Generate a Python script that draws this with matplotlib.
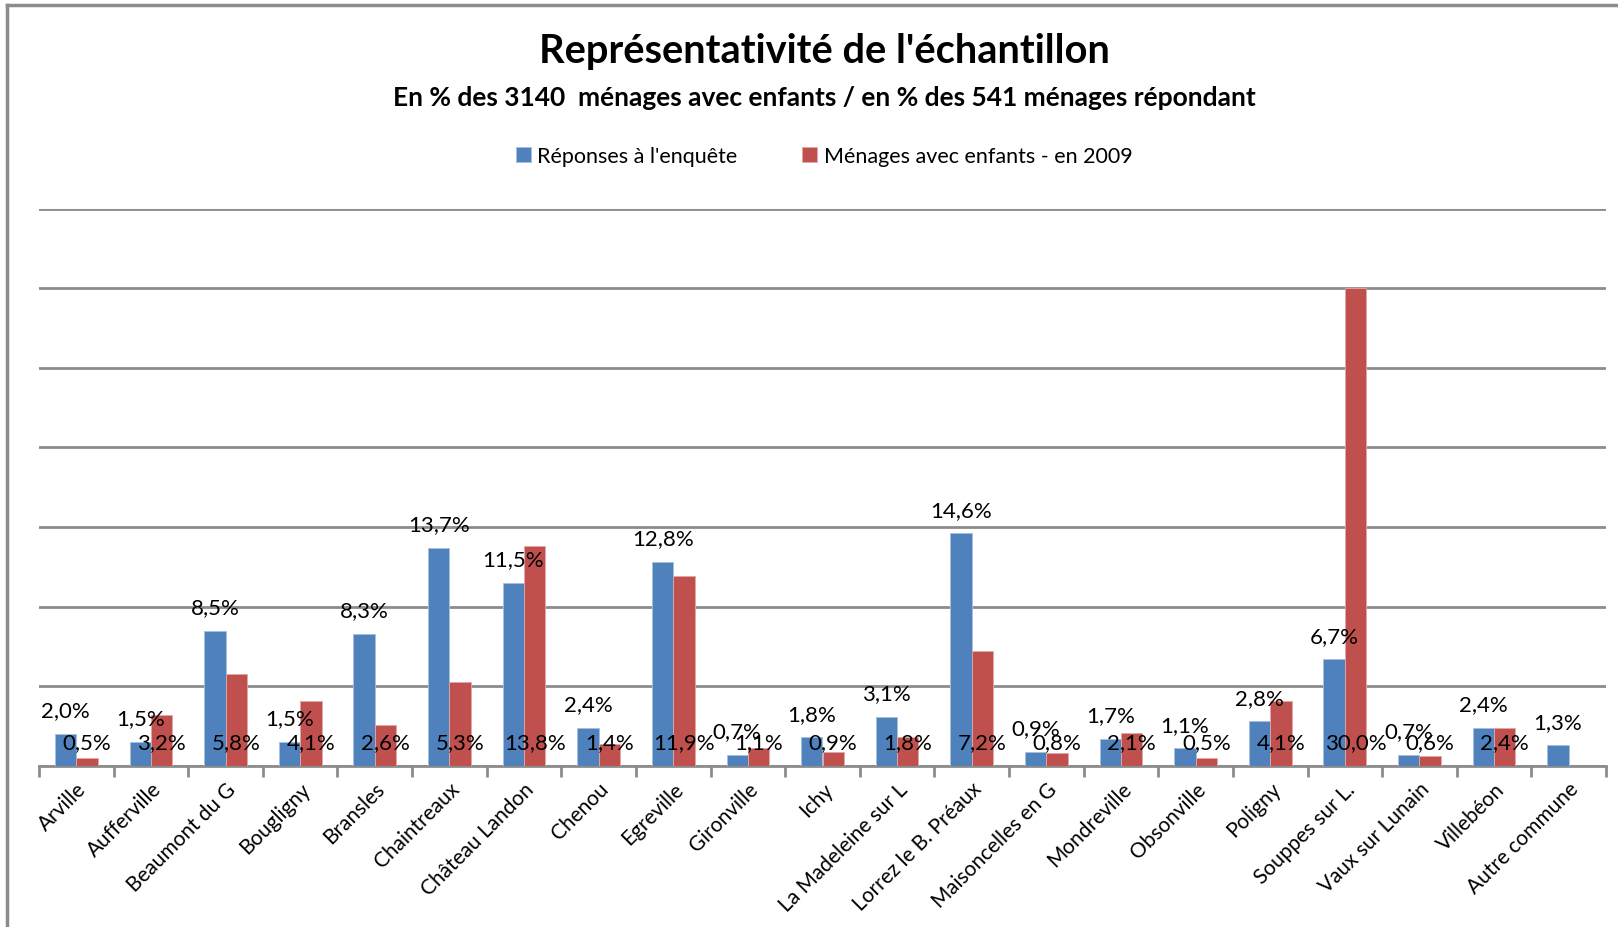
import matplotlib.pyplot as plt
import numpy as np
from matplotlib.lines import Line2D

communes = ["Arville", "Aufferville", "Beaumont du G", "Bougligny", "Bransles",
            "Chaintreaux", "Château Landon", "Chenou", "Egreville", "Gironville",
            "Ichy", "La Madeleine sur L", "Lorrez le B. Préaux", "Maisoncelles en G",
            "Mondreville", "Obsonville", "Poligny", "Souppes sur L.", "Vaux sur Lunain",
            "Villebéon", "Autre commune"]
reponses = [2.0, 1.5, 8.5, 1.5, 8.3, 13.7, 11.5, 2.4, 12.8, 0.7,
            1.8, 3.1, 14.6, 0.9, 1.7, 1.1, 2.8, 6.7, 0.7, 2.4, 1.3]
menages = [0.5, 3.2, 5.8, 4.1, 2.6, 5.3, 13.8, 1.4, 11.9, 1.1,
           0.9, 1.8, 7.2, 0.8, 2.1, 0.5, 4.1, 30.0, 0.6, 2.4, None]

blue = "#4F81BD"
red = "#C0504D"
grid_col = "#8C8C8C"

plt.rcParams['font.family'] = ['Lato', 'DejaVu Sans']

W, H = 1618, 928
fig = plt.figure(figsize=(W / 100, H / 100), dpi=100)
ax = fig.add_axes([39 / W, 1 - 767 / H, (1606 - 39) / W, (767 - 209.5) / H])

x = np.arange(len(communes))
w = 0.286
ax.bar(x - w / 2, reponses, w, color=blue, edgecolor="#A7C0DE", linewidth=0.6,
       label="Réponses à l'enquête", zorder=3)
m_vals = [v if v is not None else 0 for v in menages]
ax.bar(x + w / 2, m_vals, w, color=red, edgecolor="#E0A9A8", linewidth=0.6,
       label="Ménages avec enfants - en 2009", zorder=3)

def fmt(v):
    return ("%.1f%%" % v).replace(".", ",")

for i, v in enumerate(reponses):
    ax.annotate(fmt(v), (x[i] - w / 2, v), xytext=(0, 17), textcoords="offset points",
                ha="center", va="center", fontsize=16, zorder=5)
for i, v in enumerate(menages):
    if v is None:
        continue
    ax.annotate(fmt(v), (x[i] + w / 2, 0), xytext=(0, 17), textcoords="offset points",
                ha="center", va="center", fontsize=16, zorder=5)

ax.set_xlim(-0.5, len(communes) - 0.5)
ax.set_ylim(0, 35)
ax.set_yticks(np.arange(0, 40, 5))
ax.set_yticklabels([])
ax.tick_params(axis="y", length=0)
ax.yaxis.grid(True, color=grid_col, linewidth=2)
ax.set_axisbelow(True)

ax.set_xticks(x)
ax.set_xticklabels(communes, rotation=45, ha="right", rotation_mode="anchor", fontsize=15)
ax.tick_params(axis="x", which="major", length=0, pad=9)
ax.set_xticks(np.arange(-0.5, len(communes)), minor=True)
ax.tick_params(axis="x", which="minor", length=8, width=2, color=grid_col, direction="out")

for s in ["top", "right", "left"]:
    ax.spines[s].set_visible(False)
ax.spines["bottom"].set_color(grid_col)
ax.spines["bottom"].set_linewidth(2)

fig.text(824 / W, 1 - 52 / H, "Représentativité de l'échantillon", ha="center", va="center",
         fontsize=28.7, fontweight="bold")
fig.text(824 / W, 1 - 98 / H, "En % des 3140  ménages avec enfants / en % des 541 ménages répondant",
         ha="center", va="center", fontsize=19, fontweight="bold")

leg = fig.legend(loc="center", bbox_to_anchor=(824 / W, 1 - 157 / H), ncol=2, frameon=False,
                 fontsize=15.5, handlelength=0.7, handleheight=0.7, handletextpad=0.3,
                 columnspacing=3.0)

# chart border
fig.add_artist(Line2D([7 / W, 7 / W], [0, 1 - 6 / H], color="#8C8C8C", linewidth=2.5))
fig.add_artist(Line2D([7 / W, 1], [1 - 6 / H, 1 - 6 / H], color="#8C8C8C", linewidth=2.5))

fig.savefig("out.png", dpi=100)
